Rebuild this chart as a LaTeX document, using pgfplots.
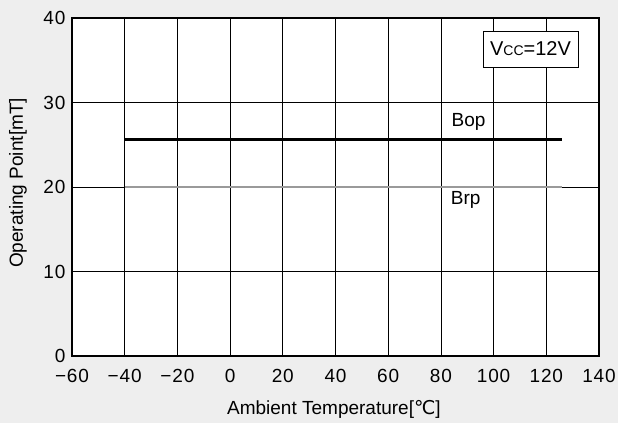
\documentclass[border=0pt]{standalone}
\usepackage{pgfplots}
\pgfplotsset{compat=1.18}
\usepackage{fontspec}
\setmainfont{Liberation Sans}
\newfontfamily\dejavu{DejaVu Sans}
\newfontfamily\tickfont[LetterSpace=4.5]{Liberation Sans}
\definecolor{bgc}{HTML}{EEEEEE}
\definecolor{brpc}{HTML}{9A9A9A}
\begin{document}
\begin{tikzpicture}
\fill[bgc] (0pt,0pt) rectangle (618pt,423pt);
\begin{axis}[
  at={(72pt,67pt)}, anchor=south west,
  scale only axis, width=527pt, height=338pt,
  xmin=-60, xmax=140, ymin=0, ymax=40,
  xtick={-60,-40,...,140}, ytick={0,10,...,40},
  xticklabels={−60,−40,−20,0,20,40,60,80,100,120,140},
  yticklabels={0,10,20,30,40},
  axis background/.style={fill=white},
  grid=major, major grid style={black, line width=0.8pt},
  axis line style={black, line width=1.2pt},
  major tick length=0pt,
  ticklabel style={font=\tickfont\fontsize{19}{22}\selectfont},
  xticklabel style={yshift=-10pt},
  yticklabel style={xshift=-3pt},
  xlabel={Ambient Temperature[{\dejavu ℃}]},
  ylabel={Operating Point[mT]},
  label style={font=\fontsize{19}{22}\selectfont},
  xlabel style={at={(axis description cs:0.497,-0.157)}, anchor=center},
  ylabel style={at={(axis description cs:-0.1025,0.512)}, anchor=center},
  clip=false,
]
\addplot[black, line width=2.5pt] coordinates {(-40,25.6) (126,25.6)};
\addplot[brpc, line width=2.5pt] coordinates {(-40,20) (126,20)};
\node[font=\fontsize{19}{22}\selectfont, anchor=base west, inner sep=0pt] at (axis cs:84,27.14) {Bop};
\node[font=\fontsize{19}{22}\selectfont, anchor=base west, inner sep=0pt] at (axis cs:83.7,17.87) {Brp};
\node[draw=black, fill=white, line width=0.8pt, font=\fontsize{20}{23}\selectfont, minimum width=95pt, minimum height=36pt, inner sep=2pt] at (axis cs:114,36.33) {V{\fontsize{14}{16}\selectfont CC}=12V};
\end{axis}
\pgfresetboundingbox
\useasboundingbox (0pt,0pt) rectangle (618pt,423pt);
\end{tikzpicture}
\end{document}
